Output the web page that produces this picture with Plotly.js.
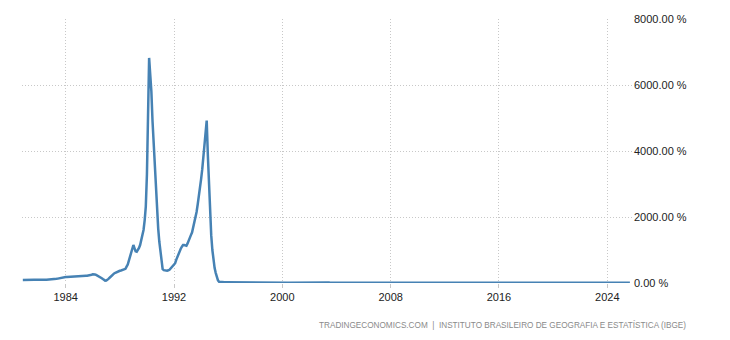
<!DOCTYPE html>
<html>
<head>
<meta charset="utf-8">
<script src="https://cdn.plot.ly/plotly-3.0.1.min.js"></script>
<style>html,body{margin:0;padding:0;background:#fff;}#chart{width:730px;height:340px;}</style>
</head>
<body>
<div id="chart"></div>
<script>
// Brazil inflation rate (YoY, %), monthly, starting Nov 1980
const startYear = 1980, startMonth = 11;
const vals1980s = [
  92, 95,
  96, 97, 98, 100, 102, 104, 103, 101, 99, 97, 95, 93,
  94, 95, 95, 96, 97, 98, 98, 99, 100, 101, 102, 104,
  106, 110, 115, 120, 126, 133, 142, 152, 160, 166, 172, 177,
  180, 183, 186, 189, 192, 196, 200, 204, 208, 212, 216, 220,
  222, 222, 221, 221, 220, 221, 222, 222, 224, 230, 240, 250,
  262, 268, 258, 245, 230, 212, 192, 170, 145, 120, 95, 72,
  75, 95, 125, 160, 200, 240, 265, 290, 310, 330, 345, 360,
  370, 380, 390, 395, 400, 430, 494, 560, 680, 800, 920, 1040,
  1151, 1050, 960, 948, 990, 1060, 1151, 1280, 1430, 1606, 1900, 2312
];
const vals1990s = [
  3300, 5300, 6821, 6300, 5800, 4900, 4200, 3500, 2750, 2200, 1650, 1250,
  900, 600, 420, 390, 380, 375, 375, 385, 400, 440, 480, 510,
  540, 600, 700, 800, 900, 980, 1040, 1100, 1150, 1150, 1130, 1130,
  1200, 1270, 1350, 1450, 1530, 1670, 1820, 1950, 2150, 2380, 2600, 2900,
  3150, 3450, 3850, 4250, 4700, 4922, 3900, 3000, 2100, 1450, 1000, 690,
  450, 300, 170, 80, 40, 33, 33, 28, 26, 24, 23, 22.4,
  21.5, 20.5, 19.5, 19.0, 18.5, 17.5, 15.5, 14.0, 13.0, 11.5, 10.5, 9.6,
  9.4, 9.2, 8.9, 8.4, 7.9, 7.1, 6.2, 6.1, 5.8, 5.6, 5.4, 5.2,
  4.5, 4.4, 4.1, 4.2, 4.4, 4.3, 3.6, 2.9, 2.4, 2.0, 1.8, 1.7,
  2.2, 3.0, 4.6, 5.0, 4.6, 4.6, 5.7, 6.2, 6.7, 7.6, 8.3, 8.9
];
const vals2000s = [
  8.6, 8.0, 6.9, 6.8, 6.5, 6.5, 7.1, 7.9, 7.7, 6.7, 6.0, 6.0,
  5.9, 6.3, 6.4, 6.6, 7.0, 7.4, 7.1, 6.4, 6.5, 7.2, 7.6, 7.7,
  7.6, 7.5, 7.8, 7.8, 7.8, 7.7, 7.5, 7.5, 7.9, 8.5, 10.9, 12.5,
  14.5, 15.9, 16.6, 16.8, 17.2, 16.6, 15.4, 15.1, 15.1, 14.0, 11.0, 9.3,
  7.7, 6.7, 5.9, 5.3, 5.2, 6.1, 6.8, 7.2, 6.7, 6.9, 7.2, 7.6,
  7.4, 7.4, 7.5, 8.1, 8.1, 7.3, 6.6, 6.0, 6.0, 6.4, 6.2, 5.7,
  5.7, 5.5, 5.3, 4.6, 4.2, 4.0, 4.0, 3.8, 3.7, 3.3, 3.0, 3.1,
  3.0, 3.0, 3.0, 3.0, 3.2, 3.7, 4.0, 4.2, 4.2, 4.1, 4.2, 4.5,
  4.6, 4.6, 4.7, 5.0, 5.6, 6.1, 6.4, 6.2, 6.3, 6.4, 6.4, 5.9,
  5.8, 5.9, 5.6, 5.5, 5.2, 4.8, 4.5, 4.4, 4.3, 4.2, 4.2, 4.3
];
const vals2010s = [
  4.6, 4.8, 5.2, 5.3, 5.2, 4.8, 4.6, 4.5, 4.7, 5.2, 5.6, 5.9,
  6.0, 6.0, 6.3, 6.5, 6.6, 6.7, 6.9, 7.2, 7.3, 7.0, 6.6, 6.5,
  6.2, 5.9, 5.2, 5.1, 5.0, 4.9, 5.2, 5.2, 5.3, 5.5, 5.5, 5.8,
  6.2, 6.3, 6.6, 6.5, 6.5, 6.7, 6.3, 6.1, 5.9, 5.8, 5.8, 5.9,
  5.6, 5.7, 6.2, 6.3, 6.4, 6.5, 6.5, 6.5, 6.8, 6.6, 6.6, 6.4,
  7.1, 7.7, 8.1, 8.2, 8.5, 8.9, 9.6, 9.5, 9.5, 9.9, 10.5, 10.7,
  10.7, 10.4, 9.4, 9.3, 9.3, 8.8, 8.7, 9.0, 8.5, 7.9, 7.0, 6.3,
  5.4, 4.8, 4.6, 4.1, 3.6, 3.0, 2.7, 2.5, 2.5, 2.7, 2.8, 2.9,
  2.9, 2.8, 2.7, 2.8, 2.9, 4.4, 4.5, 4.2, 4.5, 4.6, 4.1, 3.7,
  3.8, 3.9, 4.6, 4.9, 4.7, 3.4, 3.2, 3.4, 2.9, 2.5, 3.3, 4.3
];
const vals2020s = [
  4.2, 4.0, 3.3, 2.4, 1.9, 2.1, 2.3, 2.4, 3.1, 3.9, 4.3, 4.5,
  4.6, 5.2, 6.1, 6.8, 8.1, 8.4, 9.0, 9.7, 10.3, 10.7, 10.7, 10.1,
  10.4, 10.5, 11.3, 12.1, 11.7, 11.9, 10.1, 8.7, 7.2, 6.5, 5.9, 5.8,
  5.8, 5.6, 4.7, 4.2, 3.9, 3.2, 4.0, 4.6, 5.2, 4.8, 4.7, 4.6,
  4.5, 4.5, 3.9, 3.7, 3.9, 4.2, 4.5, 4.2, 4.4, 4.8, 4.9, 4.8,
  4.6, 5.1, 5.5, 5.5, 5.3, 5.4, 5.2, 5.1, 5.2
];
const yTickVals = [0, 2000, 4000, 6000, 8000];
const yTickText = ['0.00 %', '2000.00 %', '4000.00 %', '6000.00 %', '8000.00 %'];
const sourceText = 'TRADINGECONOMICS.COM  |  INSTITUTO BRASILEIRO DE GEOGRAFIA E ESTATÍSTICA (IBGE)';

const values = [].concat(vals1980s, vals1990s, vals2000s, vals2010s, vals2020s);
const dates = values.map((v, i) => {
  const t = (startMonth - 1) + i;
  const y = startYear + Math.floor(t / 12);
  const m = (t % 12) + 1;
  return y + '-' + String(m).padStart(2, '0') + '-01';
});

const trace = {
  x: dates, y: values, type: 'scatter', mode: 'lines',
  line: {color: '#4682b4', width: 2.5},
  hoverinfo: 'skip'
};

const layout = {
  width: 730, height: 340,
  margin: {l: 22, r: 97, t: 19, b: 57},
  paper_bgcolor: '#fff', plot_bgcolor: '#fff',
  showlegend: false,
  font: {family: 'Liberation Sans, Arial, sans-serif', size: 11, color: '#222'},
  xaxis: {
    type: 'date',
    range: ['1980-10-10', '2025-11-24'],
    tick0: '1984-01-01', dtick: 'M96', tickformat: '%Y',
    showgrid: true, gridcolor: '#c8c8c8', griddash: '1px,2px', gridwidth: 1,
    ticks: 'outside', ticklen: 4, tickcolor: '#c8c8c8',
    zeroline: false, showline: false,
    tickfont: {size: 11, color: '#222'}
  },
  yaxis: {
    side: 'right',
    range: [0, 8000],
    tickvals: yTickVals, ticktext: yTickText,
    showgrid: true, gridcolor: '#c8c8c8', griddash: '1px,2px', gridwidth: 1,
    ticks: '', zeroline: false, showline: false,
    tickfont: {size: 11, color: '#222'}
  },
  annotations: [{
    text: sourceText, xref: 'paper', yref: 'paper',
    x: 1.0903, y: -0.159, xanchor: 'right', yanchor: 'middle',
    showarrow: false,
    font: {family: 'Liberation Sans, Arial, sans-serif', size: 8.2, color: '#8a8a8a'}
  }]
};

Plotly.newPlot('chart', [trace], layout, {displayModeBar: false, staticPlot: true});
</script>
</body>
</html>
